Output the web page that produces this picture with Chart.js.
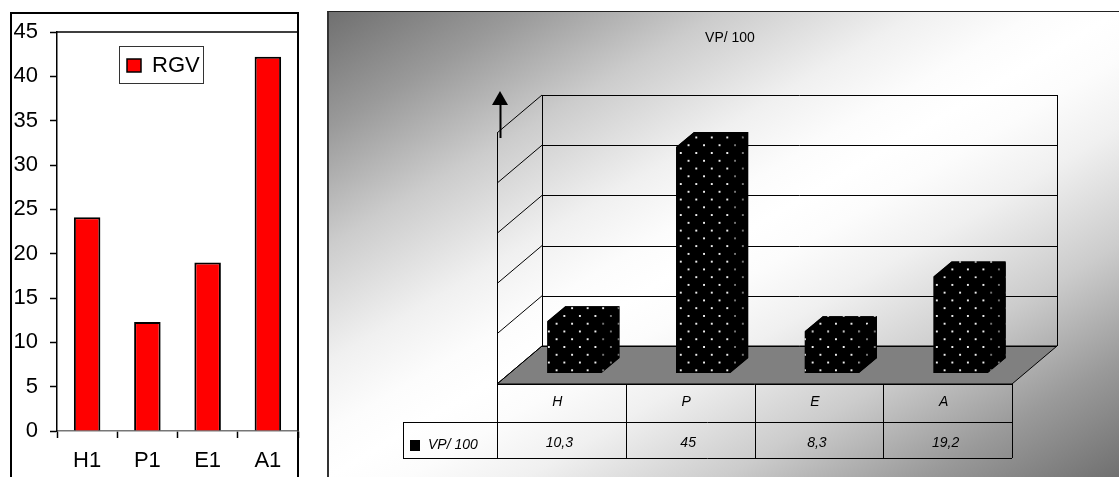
<!DOCTYPE html>
<html>
<head>
<meta charset="utf-8">
<script src="https://cdn.jsdelivr.net/npm/chart.js@4"></script>
<style>
html, body { margin: 0; padding: 0; background: #fff; overflow: hidden; }
#page { position: relative; width: 1119px; height: 477px; overflow: hidden; }
#leftBox { position: absolute; left: 10px; top: 12px; width: 285px; height: 500px; border: 2px solid #000; }
#rightBox { position: absolute; left: 327px; top: 11px; width: 792px; height: 466px;
    border-left: 2px solid #333; border-top: 1px solid #222; box-sizing: border-box;
    background: linear-gradient(to bottom right, #707070 0%, #9a9a9a 12.5%, #cccccc 25%, #f0f0f0 37.5%, #fcfcfc 45%,
        #ffffff 50%, #fcfcfc 55%, #f0f0f0 62.5%, #cccccc 75%, #9a9a9a 87.5%, #707070 100%); }
canvas { position: absolute; }
#rgvChart { left: 0; top: 0; }
#vpChart { left: 327px; top: 12px; }
</style>
</head>
<body>
<div id="page">
    <div id="leftBox"></div>
    <div id="rightBox"></div>
    <canvas id="rgvChart" width="320" height="477"></canvas>
    <canvas id="vpChart" width="796" height="465"></canvas>
</div>
<script>
var rgvCategories = ["H1", "P1", "E1", "A1"];
var rgvValues = [24.1, 12.3, 19, 42.2];
var vpCategories = ["H", "P", "E", "A"];
var vpValues = [10.3, 45, 8.3, 19.2];
var vpValueLabels = ["10,3", "45", "8,3", "19,2"];

document.addEventListener('DOMContentLoaded', function () {
    Chart.defaults.animation = false;
    Chart.defaults.responsive = false;
    Chart.defaults.font.family = '"Liberation Sans", Arial, sans-serif';
    Chart.defaults.color = '#000';
    makeRgvChart();
    makeVpChart();
});

function makeRgvChart() {
    // top and right frame of the plot, box round the legend
    var framePlugin = {
        id: 'frame',
        afterLayout: function (chart) {
            var l = chart.legend;
            l.left = 120; l.right = 204; l.top = 47; l.bottom = 84;
        },
        afterDraw: function (chart) {
            var c = chart.ctx, a = chart.chartArea;
            c.save();
            c.strokeStyle = '#000';
            c.lineWidth = 1.5;
            c.beginPath();
            c.moveTo(a.left, a.top); c.lineTo(a.right, a.top); c.lineTo(a.right, a.bottom);
            c.stroke();
            c.strokeStyle = '#333';
            c.lineWidth = 1;
            c.strokeRect(119.5, 46.5, 84, 37);
            c.restore();
        }
    };
    new Chart(document.getElementById('rgvChart'), {
        type: 'bar',
        data: {
            labels: rgvCategories,
            datasets: [{
                label: 'RGV',
                data: rgvValues,
                backgroundColor: '#ff0000',
                borderColor: '#000',
                borderWidth: 2,
                barPercentage: 0.44,
                categoryPercentage: 1
            }]
        },
        options: {
            layout: { padding: { left: 0, right: 22, top: 32, bottom: 0 } },
            plugins: {
                title: { display: false },
                legend: {
                    position: 'chartArea',
                    labels: {
                        font: { size: 22 },
                        boxWidth: 14,
                        boxHeight: 13,
                        padding: 7,
                        generateLabels: function (chart) {
                            return [{
                                text: 'RGV',
                                fillStyle: '#ff0000',
                                strokeStyle: '#000',
                                lineWidth: 1.5,
                                datasetIndex: 0
                            }];
                        }
                    }
                }
            },
            scales: {
                x: {
                    afterFit: function (s) { s.height = 46; },
                    grid: { drawOnChartArea: false, tickLength: 7, tickColor: '#000', tickWidth: 1.5 },
                    border: { color: '#777', width: 1.5 },
                    ticks: { font: { size: 22 }, padding: 10, maxRotation: 0 }
                },
                y: {
                    min: 0,
                    max: 45,
                    afterFit: function (s) { s.width = 57; },
                    grid: { drawOnChartArea: false, tickLength: 7, tickColor: '#000', tickWidth: 1.5 },
                    border: { color: '#000', width: 1.5 },
                    ticks: { stepSize: 5, font: { size: 22 }, padding: 12 }
                }
            }
        },
        plugins: [framePlugin]
    });
}

function makeDotPattern(ctx, dim) {
    var tile = document.createElement('canvas');
    tile.width = 16;
    tile.height = 16;
    var t = tile.getContext('2d');
    t.fillStyle = '#000';
    t.fillRect(0, 0, 16, 16);
    t.fillStyle = dim ? '#777' : '#eee';
    t.fillRect(3, 3, 2, 2);
    t.fillRect(11, 11, 2, 2);
    var p = ctx.createPattern(tile, 'repeat');
    // dots in the picture repeat about every 15.5px
    p.setTransform(new DOMMatrix().translate(8.4, -2.6).scale(0.97));
    return p;
}

function makeVpChart() {
    var canvas = document.getElementById('vpChart');
    var ctx = canvas.getContext('2d');
    var dots = makeDotPattern(ctx, false);
    var dotsDim = makeDotPattern(ctx, true);

    // depth of the box in front of and behind the plane the bars stand on
    var front = { x: -13, y: 11 };
    var back = { x: 32, y: -27 };
    var barDepth = { x: 18, y: -15 };

    function line(c, x1, y1, x2, y2) {
        // keep straight lines on a whole pixel
        if (x1 === x2) { x1 = x2 = Math.round(x1) + 0.5; }
        if (y1 === y2) { y1 = y2 = Math.round(y1) + 0.5; }
        c.beginPath();
        c.moveTo(x1, y1);
        c.lineTo(x2, y2);
        c.stroke();
    }
    function poly(c, pts) {
        c.beginPath();
        c.moveTo(pts[0][0], pts[0][1]);
        for (var i = 1; i < pts.length; i++) c.lineTo(pts[i][0], pts[i][1]);
        c.closePath();
    }

    var box3dPlugin = {
        id: 'box3d',
        afterLayout: function (chart) {
            // title is centred on its own spot, not over the plot
            chart.titleBlock.left = 0;
            chart.titleBlock.right = 806;
        },
        beforeDatasetsDraw: function (chart) {
            var c = chart.ctx, a = chart.chartArea, y = chart.scales.y;
            var fl = a.left + front.x, fr = a.right + front.x, fb = a.bottom + front.y;
            var bl = a.left + back.x, br = a.right + back.x, bb = a.bottom + back.y;
            c.save();
            // floor
            poly(c, [[fl, fb], [bl, bb], [br, bb], [fr, fb]]);
            c.fillStyle = '#808080';
            c.fill();
            c.strokeStyle = '#000';
            c.lineWidth = 1;
            c.stroke();
            // grid lines on back and side wall
            y.ticks.forEach(function (t) {
                var py = y.getPixelForValue(t.value);
                line(c, bl, py + back.y, br, py + back.y);
                line(c, bl, py + back.y, fl, py + front.y);
            });
            var topY = y.getPixelForValue(y.max);
            line(c, bl, topY + back.y, bl, bb);
            line(c, br, topY + back.y, br, bb);
            line(c, fl, topY + front.y, fl, fb);
            // black silhouette first so no seams show between the faces
            chart.getDatasetMeta(0).data.forEach(function (bar) {
                var l = bar.x - bar.width / 2, r = bar.x + bar.width / 2;
                poly(c, [[l, bar.y], [l + barDepth.x, bar.y + barDepth.y], [r + barDepth.x, bar.y + barDepth.y],
                    [r + barDepth.x, bar.base + barDepth.y], [r, bar.base], [l, bar.base]]);
                c.fillStyle = '#000';
                c.fill();
            });
            c.restore();
        },
        afterDatasetsDraw: function (chart) {
            var c = chart.ctx;
            chart.getDatasetMeta(0).data.forEach(function (bar) {
                var l = bar.x - bar.width / 2, r = bar.x + bar.width / 2;
                var t = bar.y, b = bar.base;
                var dx = barDepth.x, dy = barDepth.y;
                poly(c, [[l, t], [l + dx, t + dy], [r + dx, t + dy], [r, t]]);
                c.fillStyle = dots;
                c.fill();
                poly(c, [[r, t], [r + dx, t + dy], [r + dx, b + dy], [r, b]]);
                c.fillStyle = dotsDim;
                c.fill();
            });
        },
        afterDraw: function (chart) {
            var c = chart.ctx, a = chart.chartArea, x = chart.scales.x;
            var fl = a.left + front.x, fb = a.bottom + front.y;
            var rowH = [38, 36];
            c.save();
            c.strokeStyle = '#000';
            c.lineWidth = 1;
            // data table under the floor
            var edge = [];
            for (var i = 0; i < vpCategories.length; i++) {
                edge.push(x.getPixelForValue(i) - x.width / vpCategories.length / 2 + front.x);
            }
            var fr = a.right + front.x;
            edge.push(fr);
            edge.forEach(function (ex) { line(c, ex, fb, ex, fb + rowH[0] + rowH[1]); });
            line(c, fl, fb, fr, fb);
            line(c, fl - 94, fb + rowH[0], fr, fb + rowH[0]);
            line(c, fl - 94, fb + rowH[0] + rowH[1], fr, fb + rowH[0] + rowH[1]);
            line(c, fl - 94, fb + rowH[0], fl - 94, fb + rowH[0] + rowH[1]);
            c.fillStyle = '#000';
            c.font = 'italic 14px "Liberation Sans", Arial, sans-serif';
            c.textAlign = 'center';
            c.textBaseline = 'middle';
            for (var k = 0; k < vpCategories.length; k++) {
                var cx = x.getPixelForValue(k) + front.x;
                c.fillText(vpCategories[k], cx - 4, fb + 18);
                c.fillText(vpValueLabels[k], cx - 2, fb + 59);
            }
            c.textAlign = 'left';
            c.fillText('VP/ 100', fl - 69, fb + 61);
            c.fillRect(fl - 87, fb + 56, 10, 11);
            // arrow at the top of the value axis
            var ax = fl + 3;
            var tip = a.top + front.y - 42;
            c.lineWidth = 2;
            line(c, ax, tip + 47, ax, tip + 12);
            c.beginPath();
            c.moveTo(ax, tip);
            c.lineTo(ax + 8, tip + 14);
            c.lineTo(ax - 8, tip + 14);
            c.closePath();
            c.fill();
            c.restore();
        }
    };

    new Chart(canvas, {
        type: 'bar',
        data: {
            labels: vpCategories,
            datasets: [{
                label: 'VP/ 100',
                data: vpValues,
                backgroundColor: dots,
                borderWidth: 0,
                barPercentage: 0.42,
                categoryPercentage: 1
            }]
        },
        options: {
            layout: { padding: { left: 183, right: 98, top: 19, bottom: 104 } },
            plugins: {
                legend: { display: false },
                title: {
                    display: true,
                    text: 'VP/ 100',
                    font: { size: 14, weight: 'normal', lineHeight: 1 },
                    padding: { top: 0, bottom: 77 }
                }
            },
            scales: {
                x: { display: false },
                y: { display: false, min: 0, max: 50, ticks: { stepSize: 10 } }
            }
        },
        plugins: [box3dPlugin]
    });
}
</script>
</body>
</html>
